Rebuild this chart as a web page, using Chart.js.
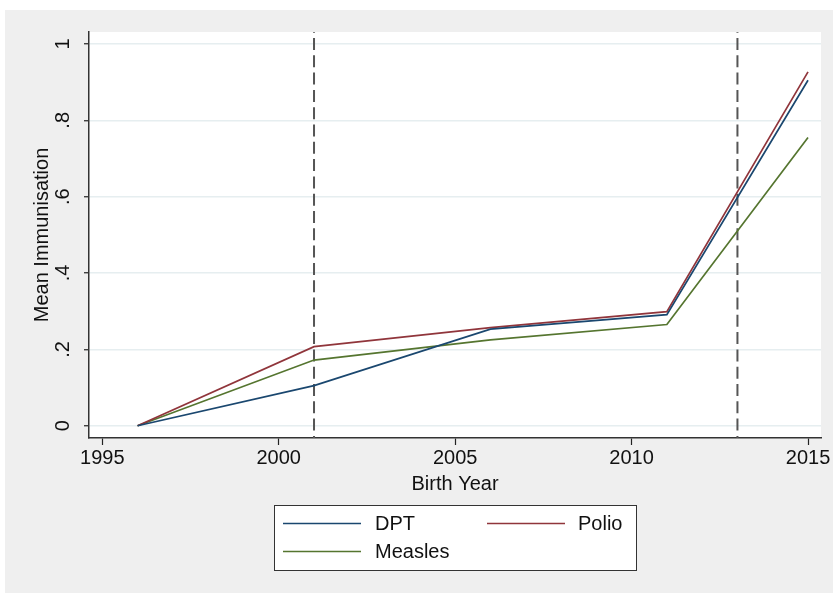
<!DOCTYPE html>
<html>
<head>
<meta charset="utf-8">
<title>Mean Immunisation by Birth Year</title>
<script src="https://cdn.jsdelivr.net/npm/chart.js@4/dist/chart.umd.min.js"></script>
<style>
  html, body { margin: 0; padding: 0; background: #ffffff; }
  canvas { display: block; }
</style>
</head>
<body>
<canvas id="chart" width="833" height="593"></canvas>
<script>
// Birth-year cohorts and mean immunisation rates per vaccine
const birthYears = [1996, 2001, 2006, 2011, 2015];
const dptValues = [0, 0.105, 0.253, 0.291, 0.905];
const polioValues = [0, 0.207, 0.257, 0.299, 0.927];
const measlesValues = [0, 0.172, 0.225, 0.265, 0.755];

// Reference years marked with vertical dashed lines
const markerYears = [2001, 2013];

// Axis ticks and their labels
const xTicks = [1995, 2000, 2005, 2010, 2015];
const yTicks = [0, 0.2, 0.4, 0.6, 0.8, 1];
const yTickLabels = ['0', '.2', '.4', '.6', '.8', '1'];

const seriesNames = ['DPT', 'Polio', 'Measles'];
const seriesColors = ['#1a476f', '#90353b', '#55752f'];

const X_MIN = 1994.623, X_MAX = 2015.368;
const Y_MIN = -0.0322, Y_MAX = 1.0314;

const FONT = "'Liberation Sans', Arial, Helvetica, sans-serif";
const TEXT = '#111111';

function toPoints(xs, ys) {
  return xs.map((x, i) => ({ x: x, y: ys[i] }));
}

const seriesData = [dptValues, polioValues, measlesValues];

const datasets = seriesData.map((vals, i) => ({
  label: seriesNames[i],
  data: toPoints(birthYears, vals),
  borderColor: seriesColors[i],
  backgroundColor: seriesColors[i],
  borderWidth: 1.7,
  pointRadius: 0,
  tension: 0,
  order: 1
}));

markerYears.forEach(yr => {
  datasets.push({
    label: 'marker ' + yr,
    data: [{ x: yr, y: Y_MAX }, { x: yr, y: Y_MIN }],
    borderColor: '#555555',
    borderWidth: 2,
    borderDash: [12, 5.3],
    borderDashOffset: 11.3,
    pointRadius: 0,
    order: 2
  });
});

// Page background, grey graph region and white plot region
const backgroundPlugin = {
  id: 'graphRegion',
  beforeDraw(chart) {
    const { ctx, chartArea } = chart;
    ctx.save();
    ctx.fillStyle = '#ffffff';
    ctx.fillRect(0, 0, chart.width, chart.height);
    ctx.fillStyle = '#efefef';
    ctx.fillRect(5, 10, chart.width - 5, chart.height - 10);
    ctx.fillStyle = '#ffffff';
    ctx.fillRect(chartArea.left, chartArea.top,
                 chartArea.right - chartArea.left, chartArea.bottom - chartArea.top);
    ctx.restore();
  }
};

// Boxed legend below the axis title
const legendPlugin = {
  id: 'boxLegend',
  afterDraw(chart) {
    const { ctx } = chart;
    const box = { x: 274.5, y: 505.5, w: 362, h: 65 };
    ctx.save();
    ctx.fillStyle = '#ffffff';
    ctx.fillRect(box.x, box.y, box.w, box.h);
    ctx.strokeStyle = '#333333';
    ctx.lineWidth = 1;
    ctx.strokeRect(box.x, box.y, box.w, box.h);

    const entries = [
      { i: 0, lx: 283, ly: 523.5, tx: 375 },
      { i: 1, lx: 487, ly: 523.5, tx: 578 },
      { i: 2, lx: 283, ly: 551.5, tx: 375 }
    ];
    ctx.font = '20px ' + FONT;
    ctx.textBaseline = 'middle';
    ctx.textAlign = 'left';
    entries.forEach(e => {
      ctx.strokeStyle = seriesColors[e.i];
      ctx.lineWidth = 1.7;
      ctx.beginPath();
      ctx.moveTo(e.lx, e.ly);
      ctx.lineTo(e.lx + 78, e.ly);
      ctx.stroke();
      ctx.fillStyle = TEXT;
      ctx.fillText(seriesNames[e.i], e.tx, e.ly + 1);
    });
    ctx.restore();
  }
};

new Chart(document.getElementById('chart'), {
  type: 'line',
  data: { datasets: datasets },
  plugins: [backgroundPlugin, legendPlugin],
  options: {
    responsive: false,
    animation: false,
    layout: { padding: { left: 0, top: 32, right: 12, bottom: 95 } },
    plugins: {
      legend: { display: false },
      tooltip: { enabled: false }
    },
    scales: {
      x: {
        type: 'linear',
        min: X_MIN,
        max: X_MAX,
        afterBuildTicks(scale) {
          scale.ticks = xTicks.map(v => ({ value: v }));
        },
        afterFit(scale) {
          scale.height = 60;
          scale.paddingLeft = 0;
          scale.paddingRight = 0;
        },
        ticks: {
          color: TEXT,
          font: { family: FONT, size: 20 },
          padding: 1,
          maxRotation: 0,
          callback: v => String(v)
        },
        grid: {
          drawOnChartArea: false,
          drawTicks: true,
          tickLength: 7,
          tickColor: '#222222',
          tickWidth: 1.2
        },
        border: { display: true, color: '#333333', width: 1.5 },
        title: {
          display: true,
          text: 'Birth Year',
          color: TEXT,
          font: { family: FONT, size: 20 },
          padding: { top: 0, bottom: 2 }
        }
      },
      y: {
        type: 'linear',
        min: Y_MIN,
        max: Y_MAX,
        afterBuildTicks(scale) {
          scale.ticks = yTicks.map(v => ({ value: v }));
        },
        afterFit(scale) {
          scale.width = 89;
          scale.paddingTop = 0;
          scale.paddingBottom = 0;
        },
        ticks: {
          color: TEXT,
          font: { family: FONT, size: 20 },
          padding: 12,
          minRotation: 90,
          maxRotation: 90,
          crossAlign: 'center',
          callback: (v) => {
            const idx = yTicks.findIndex(t => Math.abs(t - v) < 1e-9);
            return idx >= 0 ? yTickLabels[idx] : '';
          }
        },
        grid: {
          color: '#e6eef0',
          lineWidth: 1.5,
          drawTicks: true,
          tickLength: 5,
          tickColor: '#222222',
          tickWidth: 1.2
        },
        border: { display: true, color: '#333333', width: 1.5 },
        title: {
          display: true,
          text: 'Mean Immunisation',
          color: TEXT,
          font: { family: FONT, size: 20 },
          padding: { top: 30, bottom: 0 }
        }
      }
    }
  }
});
</script>
</body>
</html>
